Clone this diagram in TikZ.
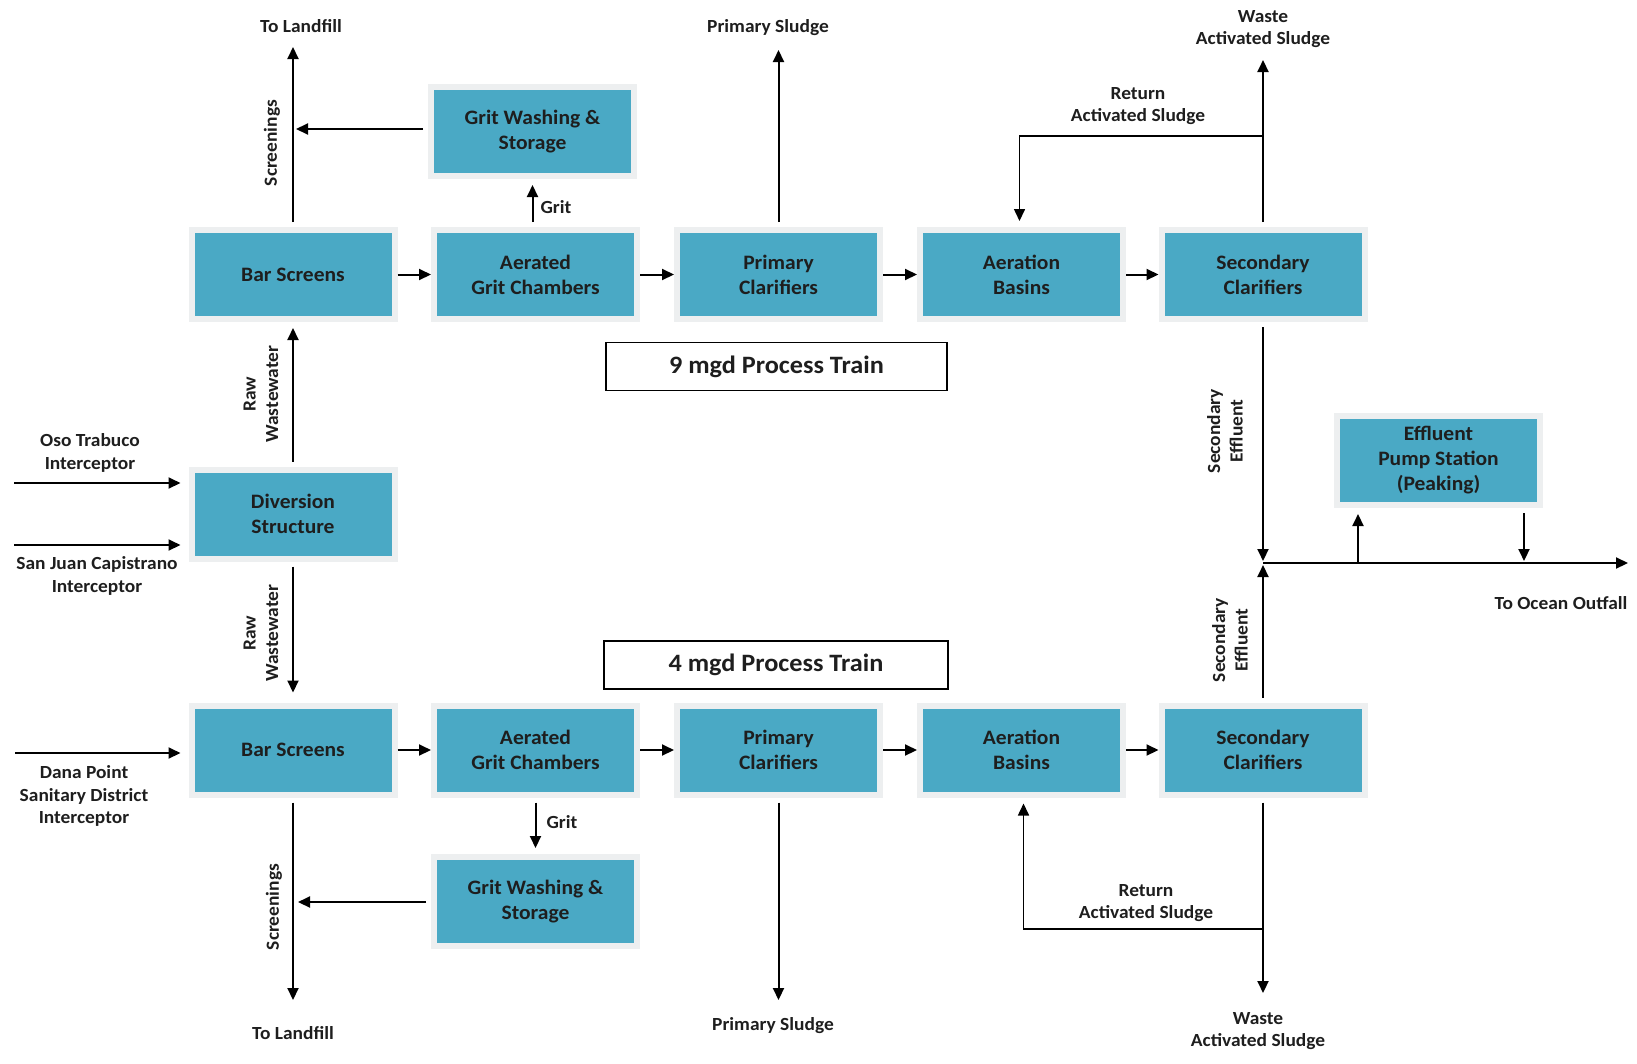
\documentclass[tikz,border=0pt]{standalone}
\usepackage{fontspec}
\setmainfont{Carlito}[FakeStretch=1.05]
\usetikzlibrary{arrows.meta}
\definecolor{boxblue}{HTML}{4AA9C5}
\definecolor{boxrim}{HTML}{EDEFF0}
\definecolor{ink}{HTML}{1E1E1E}
\begin{document}
\begin{tikzpicture}[x=1pt,y=-1pt,
  pbox/.style={draw=boxrim, line width=6pt, fill=boxblue, minimum width=203pt, minimum height=89pt,
    align=center, inner sep=0pt, text=ink, font=\fontsize{20.5}{25}\selectfont\bfseries},
  lbl/.style={align=center, inner sep=0pt, text=ink, font=\fontsize{18.5}{22.5}\selectfont\bfseries},
  vlbl/.style={lbl, rotate=90},
  train/.style={draw=black, line width=1.3pt, minimum width=341pt, minimum height=48pt, inner sep=0pt,
    text=ink, font=\fontsize{25}{29}\selectfont\bfseries},
  flow/.style={line width=2pt, draw=black, -{Triangle[length=12pt,width=11pt]}},
  gapS/.style={shorten <=5pt},
  gapE/.style={shorten >=6pt}]
\useasboundingbox (0,0) rectangle (1637,1063);
\fill[white] (0,0) rectangle (1637,1063);

% ---- top train
\node[pbox] (bar1) at (293,274.5) {Bar Screens};
\node[pbox] (ag1) at (535.5,274.5) {Aerated\\Grit Chambers};
\node[pbox] (pc1) at (778.5,274.5) {Primary\\Clarifiers};
\node[pbox] (ab1) at (1021.5,274.5) {Aeration\\Basins};
\node[pbox] (sc1) at (1263,274.5) {Secondary\\Clarifiers};
\node[pbox] (gw1) at (532.5,131.5) {Grit Washing \&\\Storage};

% ---- diversion
\node[pbox] (div) at (293,514) {Diversion\\Structure};

% ---- bottom train
\node[pbox] (bar2) at (293,750) {Bar Screens};
\node[pbox] (ag2) at (535.5,750) {Aerated\\Grit Chambers};
\node[pbox] (pc2) at (778.5,750) {Primary\\Clarifiers};
\node[pbox] (ab2) at (1021.5,750) {Aeration\\Basins};
\node[pbox] (sc2) at (1263,750) {Secondary\\Clarifiers};
\node[pbox] (gw2) at (535.5,901.5) {Grit Washing \&\\Storage};

% ---- effluent pump
\node[pbox] (ep) at (1438.5,460.5) {Effluent\\Pump Station\\(Peaking)};

% ---- train labels
\node[train] (t9) at (776.5,366.5) {9 mgd Process Train};
\node[train, minimum width=344pt] (t4) at (776,665) {4 mgd Process Train};

% ---- free ends
\coordinate (lf1) at (293,47);
\coordinate (lf2) at (293,1000);
\coordinate (ps1) at (778.5,50);
\coordinate (ps2) at (778.5,1000);
\coordinate (was1) at (1263,60);
\coordinate (was2) at (1263,993);
\coordinate (ras1) at (1263,136);
\coordinate (ras2) at (1263,929);
\coordinate (jn) at (1263,563);
\coordinate (jnA) at (1263,561);
\coordinate (jnB) at (1263,565);
\coordinate (ocean) at (1628,563);
\coordinate (pumpin) at (1358,563);
\coordinate (pumpout) at (1524,561);
\coordinate (scr1) at (296,129);
\coordinate (scr2) at (298,902);
\coordinate (oso) at (14,483);
\coordinate (sjc) at (14,545);
\coordinate (dana) at (15,753);

% ---- top connectors
\draw[flow, gapS] (bar1.north) -- (lf1);
\draw[flow, gapS] (gw1.west |- scr1) -- (scr1);
\draw[flow, gapS, gapE] (ag1.north -| gw1.south) -- (gw1.south);
\draw[flow] (bar1) -- (ag1);
\draw[flow] (ag1) -- (pc1);
\draw[flow] (pc1) -- (ab1);
\draw[flow] (ab1) -- (sc1);
\draw[flow, gapS] (pc1.north) -- (ps1);
\draw[flow, gapS] (sc1.north) -- (was1);
\draw[flow, line width=1.6pt, gapE] (ras1) -| ([xshift=-2pt]ab1.north);
\draw[flow, gapS] (sc1.south) -- (jnA);

% ---- diversion connectors
\draw[flow, gapS, gapE] (div.north) -- (bar1.south);
\draw[flow, gapS, shorten >=10pt] (div.south) -- (bar2.north);
\draw[flow, shorten >=8pt] (oso) -- (div.west |- oso);
\draw[flow, shorten >=8pt] (sjc) -- (div.west |- sjc);

% ---- effluent connectors
\draw[flow, gapS] (sc2.north) -- (jnB);
\draw[flow] (jn) -- (ocean);
\draw[flow, gapE] (pumpin) -- (ep.south -| pumpin);
\draw[flow, gapS] (ep.south -| pumpout) -- (pumpout);

% ---- bottom connectors
\draw[flow, shorten >=8pt] (dana) -- (bar2.west |- dana);
\draw[flow] (bar2) -- (ag2);
\draw[flow] (ag2) -- (pc2);
\draw[flow] (pc2) -- (ab2);
\draw[flow] (ab2) -- (sc2);
\draw[flow, gapS, gapE] (ag2.south -| gw2.north) -- (gw2.north);
\draw[flow, gapS] (gw2.west |- scr2) -- (scr2);
\draw[flow, gapS] (bar2.south) -- (lf2);
\draw[flow, gapS] (pc2.south) -- (ps2);
\draw[flow, gapS] (sc2.south) -- (was2);
\draw[flow, line width=1.6pt, gapE] (ras2) -| ([xshift=2pt]ab2.south);

% ---- labels
\node[lbl] (l1) at (301,26) {To Landfill};
\node[vlbl] (l2) at (272,143) {Screenings};
\node[lbl] (l3) at (556,207) {Grit};
\node[lbl] (l4) at (768,28) {Primary Sludge};
\node[lbl] (l5) at (1263,29) {Waste\\Activated Sludge};
\node[lbl] (l6) at (1138,106) {Return\\Activated Sludge};
\node[vlbl] (l7) at (261,394) {Raw\\Wastewater};
\node[lbl] (l8) at (90,453) {Oso Trabuco\\Interceptor};
\node[lbl] (l9) at (97,576) {San Juan Capistrano\\Interceptor};
\node[vlbl] (l10) at (1225,431) {Secondary\\Effluent};
\node[lbl] (l11) at (1561,603) {To Ocean Outfall};
\node[vlbl] (l12) at (261,633) {Raw\\Wastewater};
\node[vlbl] (l13) at (1230,640) {Secondary\\Effluent};
\node[lbl] (l14) at (84,796) {Dana Point\\Sanitary District\\Interceptor};
\node[lbl] (l15) at (562,822) {Grit};
\node[vlbl] (l16) at (274,907) {Screenings};
\node[lbl] (l17) at (293,1033) {To Landfill};
\node[lbl] (l18) at (773,1026) {Primary Sludge};
\node[lbl] (l19) at (1146,903) {Return\\Activated Sludge};
\node[lbl] (l20) at (1258,1031) {Waste\\Activated Sludge};
\end{tikzpicture}
\end{document}
